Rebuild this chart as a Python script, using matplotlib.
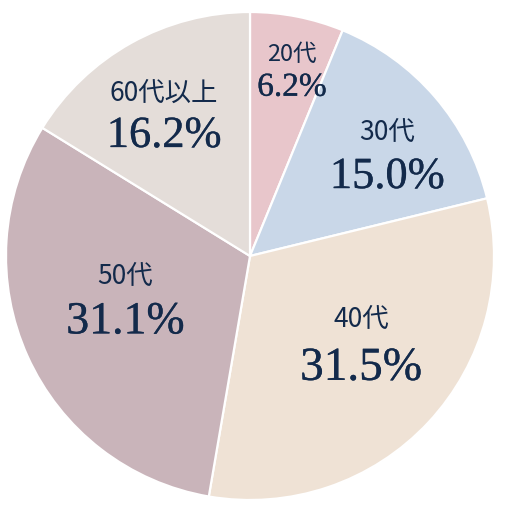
import numpy as np
import matplotlib.pyplot as plt
import matplotlib.patheffects as pe

labels = ['20代', '30代', '40代', '50代', '60代以上']
shares = [6.2, 15.0, 31.5, 31.1, 16.2]
colors = ['#e8c6cb', '#c9d7e8', '#efe2d5', '#c9b4ba', '#e4ddd9']

# text placement: radius (fraction of R), angle nudge (deg), line gap, sizes
label_r = [0.78, 0.70, 0.58, 0.54, 0.68]
label_nudge = [1.6, 4.2, -4.8, 5.3, -2.0]
line_gap = [0.14, 0.185, 0.205, 0.19, 0.18]
pct_size = [24, 32, 34, 33, 32]
name_size = [17, 19, 19, 19, 19]

text_color = '#132a4b'

fig = plt.figure(figsize=(5.1, 5.1), dpi=100)
ax = fig.add_axes([0, 0, 1, 1])

R = 244.0
wedges, _ = ax.pie(shares, colors=colors, startangle=90, counterclock=False,
                   radius=1.0, wedgeprops=dict(edgecolor='white', linewidth=1.6))

heavier = [pe.withStroke(linewidth=0.25, foreground=text_color)]
for i, w in enumerate(wedges):
    mid = np.deg2rad((w.theta1 + w.theta2) / 2 - label_nudge[i])
    x = label_r[i] * np.cos(mid)
    y = label_r[i] * np.sin(mid)
    ax.text(x, y + line_gap[i] / 2, labels[i], ha='center', va='center',
            fontsize=name_size[i], color=text_color,
            family=['Noto Sans CJK JP', 'DejaVu Sans'])
    ax.text(x, y - line_gap[i] / 2, f'{shares[i]:.1f}%', ha='center', va='center',
            fontsize=pct_size[i], color=text_color, family='Liberation Serif',
            path_effects=heavier)

ax.set_xlim(-250 / R, 260 / R)
ax.set_ylim(-253 / R, 257 / R)
ax.axis('off')

fig.savefig('out.png', dpi=100, facecolor='white')
